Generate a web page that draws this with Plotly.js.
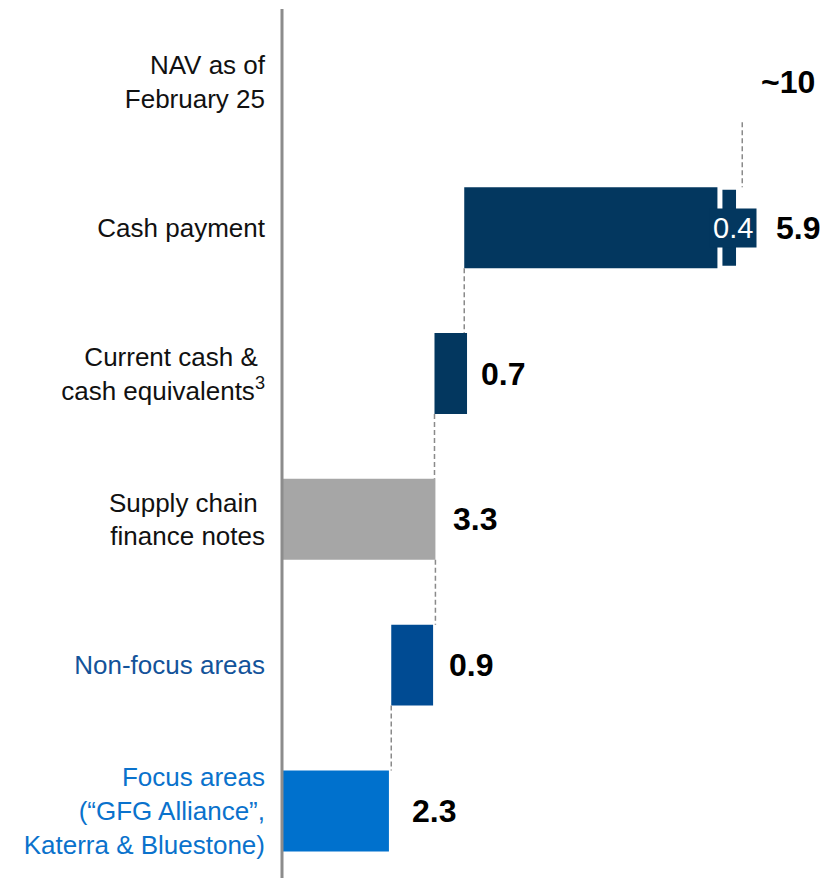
<!DOCTYPE html>
<html>
<head>
<meta charset="utf-8">
<script src="https://cdn.plot.ly/plotly-3.0.1.min.js"></script>
<style>html,body{margin:0;padding:0;background:#fff;}#chart{width:825px;height:878px;}</style>
</head>
<body>
<div id="chart"></div>
<script>
// Rows from top to bottom
const categories = [
  "NAV as of<br>February 25",
  "Cash payment",
  "Current cash & <br>cash equivalents<sup>3</sup>",
  "Supply chain <br>finance notes",
  "Non-focus areas",
  "Focus areas<br>(“GFG Alliance”,<br>Katerra & Bluestone)"
];
const valueLabels = ["~10", "5.9", "0.7", "3.3", "0.9", "2.3"];
const values = [9.9, 5.9, 0.7, 3.3, 0.9, 2.3];   // bar lengths (NAV has no bar)
const bases  = [0, 3.92, 3.28, 0, 2.35, 0];       // bar starting points
const cashMain = 5.5;                              // part of the cash payment
const cashExtra = 0.4;                             // separated segment of the cash payment
const cashExtraLabel = "0.4";

const NAVY = "#03375f", NF = "#004b93", FOCUS = "#0071cd", GREY = "#a6a6a6";
const barColors = [null, NAVY, NAVY, GREY, NF, FOCUS];
const labelColors = ["#111", "#111", "#111", "#111", "#13539a", "#0a72cc"];
const idx = categories.map((_, i) => i);
const BW = 0.555;

const traces = [];
const rows = [2, 3, 4, 5];
traces.push({
  type: "bar", orientation: "h",
  y: rows, x: rows.map(i => values[i]), base: rows.map(i => bases[i]),
  width: BW, marker: {color: rows.map(i => barColors[i]), line: {width: 0}},
  hoverinfo: "skip"
});
traces.push({
  type: "bar", orientation: "h",
  y: [1], x: [cashMain], base: [bases[1]],
  width: BW, marker: {color: NAVY, line: {width: 0}}, hoverinfo: "skip"
});
traces.push({
  type: "bar", orientation: "h",
  y: [1], x: [cashExtra], base: [bases[1] + cashMain],
  width: BW, marker: {color: NAVY, line: {width: 5, color: "#ffffff"}}, hoverinfo: "skip"
});

const shapes = [];
for (let i = 0; i < categories.length - 1; i++) {
  const xc = bases[i] > 0 ? bases[i] : bases[i] + values[i];
  shapes.push({
    type: "line", xref: "x", yref: "y",
    x0: xc, x1: xc, y0: i + BW / 2, y1: i + 1 - BW / 2,
    line: {color: "#8a8a8a", width: 1.5, dash: "5px,3px"}
  });
}
// vertical axis line
shapes.push({type: "line", xref: "paper", yref: "paper", x0: 0, x1: 0, y0: 0, y1: 1,
  layer: "above", line: {color: "#8c8c8c", width: 3}});

const shifts = [18, 36, 13, 17, 15, 22];
const annotations = idx.map(i => ({
  x: bases[i] + values[i], y: i, xref: "x", yref: "y",
  text: valueLabels[i], showarrow: false, xanchor: "left", yanchor: "middle",
  xshift: shifts[i], borderpad: 0,
  font: {family: "Liberation Sans, Arial, sans-serif", size: 32, color: "#000", weight: "bold"}
}));
annotations.push({
  x: bases[1] + cashMain + cashExtra / 2, y: 1, xref: "x", yref: "y",
  text: cashExtraLabel, showarrow: false, xanchor: "center", yanchor: "middle",
  xshift: 4, bgcolor: NAVY, borderpad: 3,
  font: {family: "Liberation Sans, Arial, sans-serif", size: 29, color: "#ffffff"}
});

const layout = {
  width: 825, height: 878,
  margin: {l: 282, r: 0, t: 9, b: 0},
  paper_bgcolor: "#fff", plot_bgcolor: "#fff",
  showlegend: false, barmode: "overlay",
  xaxis: {range: [0, 11.68], visible: false, fixedrange: true},
  yaxis: {
    range: [5.46, -0.5], tickmode: "array", tickvals: idx,
    ticktext: categories.map((c, i) => `<span style="color:${labelColors[i]}">${c}</span>`),
    showgrid: false, zeroline: false, showline: false, ticks: "",
    ticklabelstandoff: 16, automargin: false,
    tickfont: {family: "Liberation Sans, Arial, sans-serif", size: 26, color: "#111"}
  },
  shapes: shapes, annotations: annotations
};

Plotly.newPlot("chart", traces, layout, {displayModeBar: false, staticPlot: true});
</script>
</body>
</html>
